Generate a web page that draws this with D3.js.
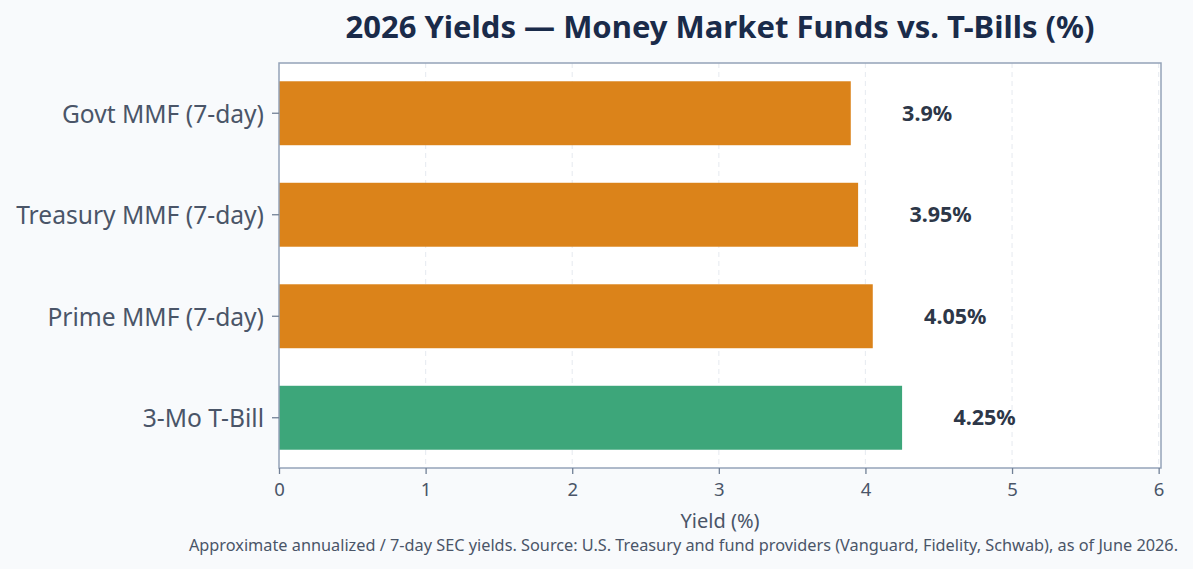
<!DOCTYPE html>
<html>
<head>
<meta charset="utf-8">
<script src="https://cdn.jsdelivr.net/npm/d3@7"></script>
<style>
  body { margin: 0; background: #f8fafc; }
  svg { display: block; font-family: "Noto Sans", "Open Sans", sans-serif; }
</style>
</head>
<body>
<div id="chart"></div>
<script>
// data
const categories = ['Govt MMF (7-day)', 'Treasury MMF (7-day)', 'Prime MMF (7-day)', '3-Mo T-Bill'];
const yields = [3.9, 3.95, 4.05, 4.25];
const barColors = ['#db831a', '#db831a', '#db831a', '#3da67a'];
const xTicks = [0, 1, 2, 3, 4, 5, 6];

const width = 1193;
const height = 569;
const margin = { top: 63, right: 32, bottom: 101, left: 279 };

const svg = d3.select('#chart')
  .append('svg')
  .attr('width', width)
  .attr('height', height);

svg.append('rect')
  .attr('width', width)
  .attr('height', height)
  .attr('fill', '#f8fafc');

const x = d3.scaleLinear()
  .domain([0, 6.016])
  .range([margin.left, width - margin.right]);

const y = d3.scaleBand()
  .domain(categories)
  .range([margin.top, height - margin.bottom])
  .paddingInner(0.37)
  .paddingOuter(0.18);

// plot background
svg.append('rect')
  .attr('x', margin.left)
  .attr('y', margin.top)
  .attr('width', width - margin.right - margin.left)
  .attr('height', height - margin.bottom - margin.top)
  .attr('fill', '#ffffff');

// grid
svg.append('g')
  .selectAll('line')
  .data(xTicks.slice(1))
  .enter()
  .append('line')
  .attr('x1', d => x(d))
  .attr('x2', d => x(d))
  .attr('y1', margin.top)
  .attr('y2', height - margin.bottom)
  .attr('stroke', '#e9edf2')
  .attr('stroke-width', 1.2)
  .attr('stroke-dasharray', '5,4');

// bars
svg.append('g')
  .selectAll('rect')
  .data(categories)
  .enter()
  .append('rect')
  .attr('x', x(0))
  .attr('y', d => y(d))
  .attr('width', (d, i) => x(yields[i]) - x(0))
  .attr('height', y.bandwidth())
  .attr('fill', (d, i) => barColors[i]);

// value labels
svg.append('g')
  .selectAll('text')
  .data(categories)
  .enter()
  .append('text')
  .attr('x', (d, i) => x(yields[i] + 0.35))
  .attr('y', d => y(d) + y.bandwidth() / 2)
  .attr('dy', '0.36em')
  .attr('font-size', 21.5)
  .attr('font-weight', 700)
  .attr('fill', '#2d3748')
  .text((d, i) => yields[i] + '%');

// frame
svg.append('rect')
  .attr('x', margin.left)
  .attr('y', margin.top)
  .attr('width', width - margin.right - margin.left)
  .attr('height', height - margin.bottom - margin.top)
  .attr('fill', 'none')
  .attr('stroke', '#94a3b8')
  .attr('stroke-width', 1.5);

// x axis
const xAxis = svg.append('g')
  .attr('transform', `translate(0,${height - margin.bottom})`)
  .call(d3.axisBottom(x).tickValues(xTicks).tickSize(6).tickPadding(9).tickFormat(d3.format('d')));
xAxis.select('.domain').remove();
xAxis.selectAll('line').attr('stroke', '#718096').attr('stroke-width', 1.3);
xAxis.selectAll('text')
  .attr('font-size', 18.5)
  .attr('fill', '#4a5568')
  .attr('font-family', '"Noto Sans", sans-serif');

// y axis
const yAxis = svg.append('g')
  .attr('transform', `translate(${margin.left},0)`)
  .call(d3.axisLeft(y).tickSize(7).tickPadding(8));
yAxis.select('.domain').remove();
yAxis.selectAll('line').attr('stroke', '#718096').attr('stroke-width', 1.3);
yAxis.selectAll('text')
  .attr('font-size', 24.6)
  .attr('dy', '0.38em')
  .attr('fill', '#4a5568')
  .attr('font-family', '"Noto Sans", sans-serif');

// axis label
svg.append('text')
  .attr('x', (margin.left + width - margin.right) / 2)
  .attr('y', 528)
  .attr('text-anchor', 'middle')
  .attr('font-size', 20)
  .attr('fill', '#4a5568')
  .text('Yield (%)');

// title
svg.append('text')
  .attr('x', (margin.left + width - margin.right) / 2)
  .attr('y', 38)
  .attr('text-anchor', 'middle')
  .attr('font-size', 31)
  .attr('font-weight', 700)
  .attr('fill', '#1a2b4a')
  .text('2026 Yields — Money Market Funds vs. T-Bills (%)');

// footnote
svg.append('text')
  .attr('x', 1178)
  .attr('y', 551)
  .attr('text-anchor', 'end')
  .attr('font-size', 16.3)
  .attr('fill', '#4a5568')
  .text('Approximate annualized / 7-day SEC yields. Source: U.S. Treasury and fund providers (Vanguard, Fidelity, Schwab), as of June 2026.');
</script>
</body>
</html>
